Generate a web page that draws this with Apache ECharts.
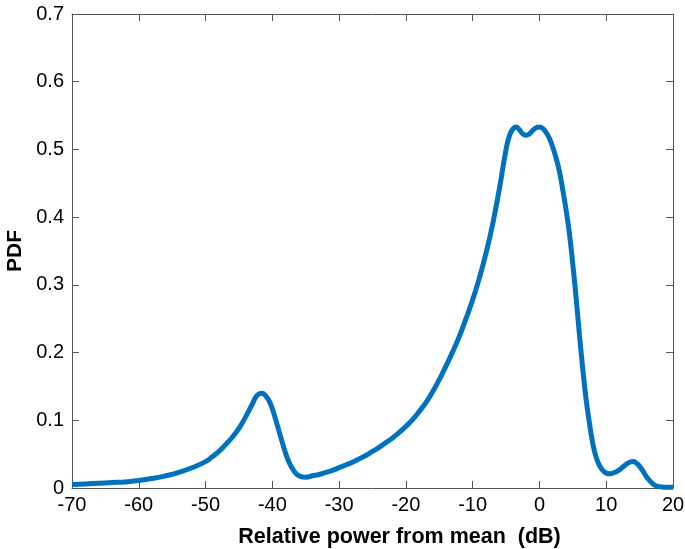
<!DOCTYPE html>
<html>
<head>
<meta charset="utf-8">
<script src="https://cdn.jsdelivr.net/npm/echarts@6/dist/echarts.min.js"></script>
<style>
  html, body { margin: 0; padding: 0; background: #fff; }
  #chart { width: 685px; height: 549px; }
</style>
</head>
<body>
<div id="chart"></div>
<script>
// power relative to mean (dB)
const powerDb = [-70, -68, -66, -64, -62, -60, -58, -56, -54, -52, -50, -49, -48, -47, -46, -45, -44, -43, -42.5, -42, -41.5, -41, -40.5, -40, -39.5, -39, -38.5, -38, -37.5, -37, -36.5, -36, -35, -34, -33, -32, -31, -30, -29, -28, -27, -26, -25, -24, -23, -22, -21, -20, -19, -18, -17, -16, -15, -14, -13, -12, -11, -10, -9, -8, -7, -6, -5, -4.5, -4, -3.5, -3, -2.5, -2, -1.5, -1, -0.5, 0, 0.5, 1, 1.5, 2, 2.5, 3, 3.5, 4, 4.5, 5, 5.5, 6, 6.5, 7, 7.5, 8, 8.5, 9, 9.5, 10, 10.5, 11, 11.5, 12, 12.5, 13, 13.5, 14, 14.5, 15, 15.5, 16, 16.5, 17, 17.5, 18, 19, 20];
// probability density
const pdf = [0.005, 0.006, 0.007, 0.008, 0.009, 0.011, 0.014, 0.018, 0.023, 0.030, 0.039, 0.046, 0.054, 0.064, 0.075, 0.088, 0.105, 0.124, 0.134, 0.139, 0.140, 0.136, 0.129, 0.117, 0.101, 0.084, 0.067, 0.051, 0.038, 0.029, 0.022, 0.018, 0.016, 0.018, 0.020, 0.023, 0.026, 0.030, 0.034, 0.038, 0.043, 0.048, 0.054, 0.060, 0.067, 0.074, 0.082, 0.091, 0.101, 0.113, 0.126, 0.142, 0.160, 0.180, 0.201, 0.224, 0.250, 0.278, 0.310, 0.347, 0.390, 0.442, 0.500, 0.520, 0.530, 0.533, 0.529, 0.523, 0.521, 0.523, 0.528, 0.532, 0.533, 0.531, 0.525, 0.516, 0.503, 0.487, 0.467, 0.440, 0.410, 0.375, 0.330, 0.280, 0.225, 0.175, 0.130, 0.095, 0.065, 0.045, 0.033, 0.026, 0.022, 0.021, 0.022, 0.024, 0.027, 0.031, 0.035, 0.038, 0.039, 0.037, 0.032, 0.025, 0.017, 0.011, 0.006, 0.003, 0.002, 0.001, 0.001];

const xName = 'Relative power from mean  (dB)';
const yName = 'PDF';

const chart = echarts.init(document.getElementById('chart'));
const font = 'Liberation Sans, Arial, sans-serif';
const axisColor = '#555';

const boxAxis = (extra) => Object.assign({
	type: 'value',
	axisLine: { show: true, onZero: false, lineStyle: { color: axisColor, width: 1 } },
	axisTick: { show: true, inside: true, length: 7, lineStyle: { color: axisColor } },
	axisLabel: { show: false },
	splitLine: { show: false }
}, extra);

chart.setOption({
	animation: false,
	backgroundColor: '#fff',
	grid: { left: 72, right: 12, top: 14, bottom: 61, containLabel: false, outerBoundsMode: 'none' },
	xAxis: [
		boxAxis({
			min: -70, max: 20, interval: 10,
			position: 'bottom',
			axisLabel: { show: true, color: '#000', fontSize: 20, fontFamily: font, margin: 7 },
			name: xName,
			nameLocation: 'middle',
			nameGap: 38,
			nameTextStyle: { color: '#000', fontSize: 21.5, fontWeight: 'bold', fontFamily: font, padding: [0, 0, 0, 54] }
		}),
		boxAxis({ min: -70, max: 20, interval: 10, position: 'top' })
	],
	yAxis: [
		boxAxis({
			min: 0, max: 0.7, interval: 0.1,
			position: 'left',
			axisLabel: {
				show: true, color: '#000', fontSize: 20, fontFamily: font, margin: 8,
				formatter: v => (v === 0 ? '0' : v.toFixed(1))
			},
			name: yName,
			nameLocation: 'middle',
			nameGap: 46,
			nameTextStyle: { color: '#000', fontSize: 21, fontWeight: 'bold', fontFamily: font }
		}),
		boxAxis({ min: 0, max: 0.7, interval: 0.1, position: 'right' })
	],
	series: [{
		type: 'line',
		smooth: 0.5,
		showSymbol: false,
		data: powerDb.map((x, i) => [x, pdf[i]]),
		lineStyle: { color: '#0072BD', width: 5 },
		itemStyle: { color: '#0072BD' }
	}]
});
</script>
</body>
</html>
